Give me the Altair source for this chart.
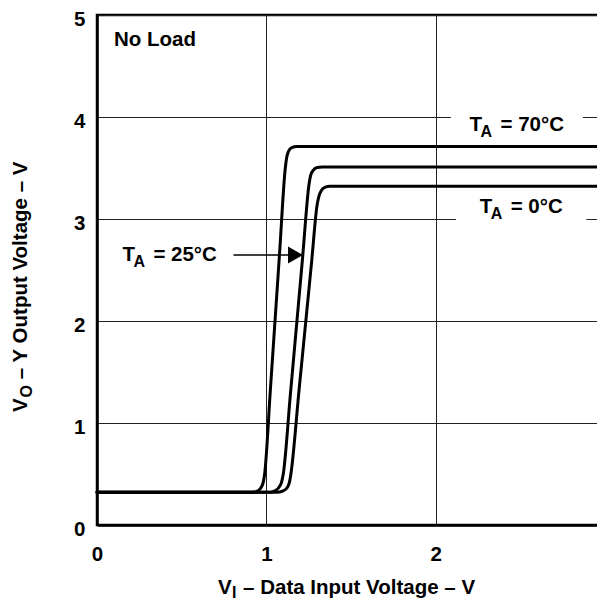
import altair as alt
import pandas as pd

FONT = "Liberation Sans"
FS = 20.5

# ---- curve data ----
vi_70 = [0.0, 0.92, 0.95, 0.97, 0.982, 0.99, 1.024, 1.078, 1.112, 1.12, 1.13, 1.15, 1.18, 3.0]
vo_70 = [0.32, 0.32, 0.335, 0.37, 0.42, 0.50, 1.33, 2.66, 3.50, 3.60, 3.66, 3.70, 3.71, 3.71]

vi_25 = [0.0, 1.02, 1.05, 1.075, 1.09, 1.10, 1.142, 1.214, 1.253, 1.262, 1.278, 1.30, 1.33, 3.0]
vo_25 = [0.32, 0.32, 0.335, 0.37, 0.42, 0.50, 1.28, 2.62, 3.35, 3.43, 3.48, 3.505, 3.51, 3.51]

vi_0 = [0.0, 1.06, 1.10, 1.125, 1.138, 1.145, 1.193, 1.268, 1.30, 1.31, 1.325, 1.345, 1.375, 3.0]
vo_0 = [0.32, 0.32, 0.335, 0.37, 0.43, 0.50, 1.32, 2.59, 3.14, 3.22, 3.28, 3.31, 3.32, 3.32]

x_ticks = [0, 1, 2, 3]
y_ticks = [0, 1, 2, 3, 4, 5]

# ---- annotations ----
lab_x = [2.2, 2.26, 0.15]
lab_y = [3.86, 3.06, 2.59]
lab_main = ["T", "T", "T"]
lab_sub = ["A", "A", "A"]
lab_rest = ["= 70°C", "= 0°C", "= 25°C"]

box_x = [2.09, 2.12]
box_x2 = [2.87, 2.89]
box_y = [3.78, 2.90]
box_y2 = [4.10, 3.15]

arrow_x = [0.806]
arrow_x2 = [1.13]
arrow_y = [2.647]
head_x = [1.172]

note_x = [0.1]
note_y = [4.696]
note_text = ["No Load"]

xt_x = [0.715]
xt_y = [-0.68]
xt_main = ["V"]
xt_sub = ["I"]
xt_rest = ["– Data Input Voltage – V"]

yt_x = [-0.413]
yt_y = [1.108]
yt_sub_x = [-0.383]
yt_sub_y = [1.25]
yt_rest_y = [1.43]
yt_main = ["V"]
yt_sub = ["O"]
yt_rest = ["– Y Output Voltage – V"]

curves = pd.concat([
    pd.DataFrame({"vi": vi_70, "vo": vo_70, "s": "70"}),
    pd.DataFrame({"vi": vi_25, "vo": vo_25, "s": "25"}),
    pd.DataFrame({"vi": vi_0, "vo": vo_0, "s": "0"}),
])

xs = alt.Scale(domain=[0, 3], nice=False, zero=False)
ys = alt.Scale(domain=[0, 5], nice=False, zero=False)

xaxis = alt.Axis(values=x_ticks, format="d", grid=True, gridColor="#222222", gridWidth=1,
                 domainColor="black", domainWidth=2.5, ticks=False,
                 labelFont=FONT, labelFontSize=FS, labelFontWeight="bold",
                 labelColor="black", labelPadding=19, labelFlush=False,
                 labelOverlap=False, title=None)
yaxis = alt.Axis(values=y_ticks, format="d", grid=True, gridColor="#222222", gridWidth=1,
                 domainColor="black", domainWidth=2.5, ticks=False,
                 labelFont=FONT, labelFontSize=FS, labelFontWeight="bold",
                 labelColor="black", labelPadding=12, labelFlush=False,
                 labelOffset=4, labelOverlap=False, title=None)

lines = alt.Chart(curves).mark_line(color="black", strokeWidth=3, interpolate="monotone",
                                    strokeJoin="round", strokeCap="round").encode(
    x=alt.X("vi:Q", scale=xs, axis=xaxis),
    y=alt.Y("vo:Q", scale=ys, axis=yaxis),
    detail="s:N",
)

boxes = alt.Chart(pd.DataFrame({"x": box_x, "x2": box_x2, "y": box_y, "y2": box_y2})).mark_rect(
    fill="white").encode(
    x=alt.X("x:Q", scale=xs), x2="x2:Q", y=alt.Y("y:Q", scale=ys), y2="y2:Q")

labdf = pd.DataFrame({"x": lab_x, "y": lab_y, "m": lab_main, "s": lab_sub, "r": lab_rest})
tmain = alt.Chart(labdf).mark_text(align="left", baseline="alphabetic", font=FONT, fontSize=FS,
                                   fontWeight="bold", color="black").encode(
    x=alt.X("x:Q", scale=xs), y=alt.Y("y:Q", scale=ys), text="m:N")
tsub = alt.Chart(labdf).mark_text(align="left", baseline="alphabetic", font=FONT, fontSize=16,
                                  fontWeight="bold", color="black", dx=11, dy=6).encode(
    x=alt.X("x:Q", scale=xs), y=alt.Y("y:Q", scale=ys), text="s:N")
trest = alt.Chart(labdf).mark_text(align="left", baseline="alphabetic", font=FONT, fontSize=FS,
                                   fontWeight="bold", color="black", dx=31).encode(
    x=alt.X("x:Q", scale=xs), y=alt.Y("y:Q", scale=ys), text="r:N")

arrow = alt.Chart(pd.DataFrame({"x": arrow_x, "x2": arrow_x2, "y": arrow_y})).mark_rule(
    color="black", strokeWidth=1.5).encode(
    x=alt.X("x:Q", scale=xs), x2="x2:Q", y=alt.Y("y:Q", scale=ys))
head = alt.Chart(pd.DataFrame({"x": head_x, "y": arrow_y})).mark_point(
    shape="M -0.88 -1 L 0.88 0 L -0.88 1 Z", size=289, filled=True, color="black",
    opacity=1, strokeWidth=0).encode(
    x=alt.X("x:Q", scale=xs), y=alt.Y("y:Q", scale=ys))

note = alt.Chart(pd.DataFrame({"x": note_x, "y": note_y, "t": note_text})).mark_text(
    align="left", baseline="alphabetic", font=FONT, fontSize=FS, fontWeight="bold",
    color="black").encode(x=alt.X("x:Q", scale=xs), y=alt.Y("y:Q", scale=ys), text="t:N")

xtdf = pd.DataFrame({"x": xt_x, "y": xt_y, "m": xt_main, "s": xt_sub, "r": xt_rest})
xt1 = alt.Chart(xtdf).mark_text(align="left", baseline="alphabetic", font=FONT, fontSize=FS,
                                fontWeight="bold", color="black").encode(
    x=alt.X("x:Q", scale=xs), y=alt.Y("y:Q", scale=ys), text="m:N")
xt2 = alt.Chart(xtdf).mark_text(align="left", baseline="alphabetic", font=FONT, fontSize=16,
                                fontWeight="bold", color="black", dx=14, dy=4).encode(
    x=alt.X("x:Q", scale=xs), y=alt.Y("y:Q", scale=ys), text="s:N")
xt3 = alt.Chart(xtdf).mark_text(align="left", baseline="alphabetic", font=FONT, fontSize=FS,
                                fontWeight="bold", color="black", dx=25).encode(
    x=alt.X("x:Q", scale=xs), y=alt.Y("y:Q", scale=ys), text="r:N")

yt1 = alt.Chart(pd.DataFrame({"x": yt_x, "y": yt_y, "t": yt_main})).mark_text(
    align="left", baseline="alphabetic", font=FONT, fontSize=FS, fontWeight="bold",
    color="black", angle=270).encode(x=alt.X("x:Q", scale=xs), y=alt.Y("y:Q", scale=ys), text="t:N")
yt2 = alt.Chart(pd.DataFrame({"x": yt_sub_x, "y": yt_sub_y, "t": yt_sub})).mark_text(
    align="left", baseline="alphabetic", font=FONT, fontSize=16, fontWeight="bold",
    color="black", angle=270).encode(x=alt.X("x:Q", scale=xs), y=alt.Y("y:Q", scale=ys), text="t:N")
yt3 = alt.Chart(pd.DataFrame({"x": yt_x, "y": yt_rest_y, "t": yt_rest})).mark_text(
    align="left", baseline="alphabetic", font=FONT, fontSize=FS, fontWeight="bold",
    color="black", angle=270).encode(x=alt.X("x:Q", scale=xs), y=alt.Y("y:Q", scale=ys), text="t:N")

chart = alt.layer(lines, boxes, tmain, tsub, trest, arrow, head, note,
                  xt1, xt2, xt3, yt1, yt2, yt3).properties(
    width=508, height=510,
    padding={"left": 89, "top": 7, "right": -8, "bottom": 76},
    autosize=alt.AutoSizeParams(type="none"),
    background="white",
).configure_view(stroke="black", strokeWidth=2.5)

chart.save("out.html", embed_options={"renderer": "svg", "actions": False})
